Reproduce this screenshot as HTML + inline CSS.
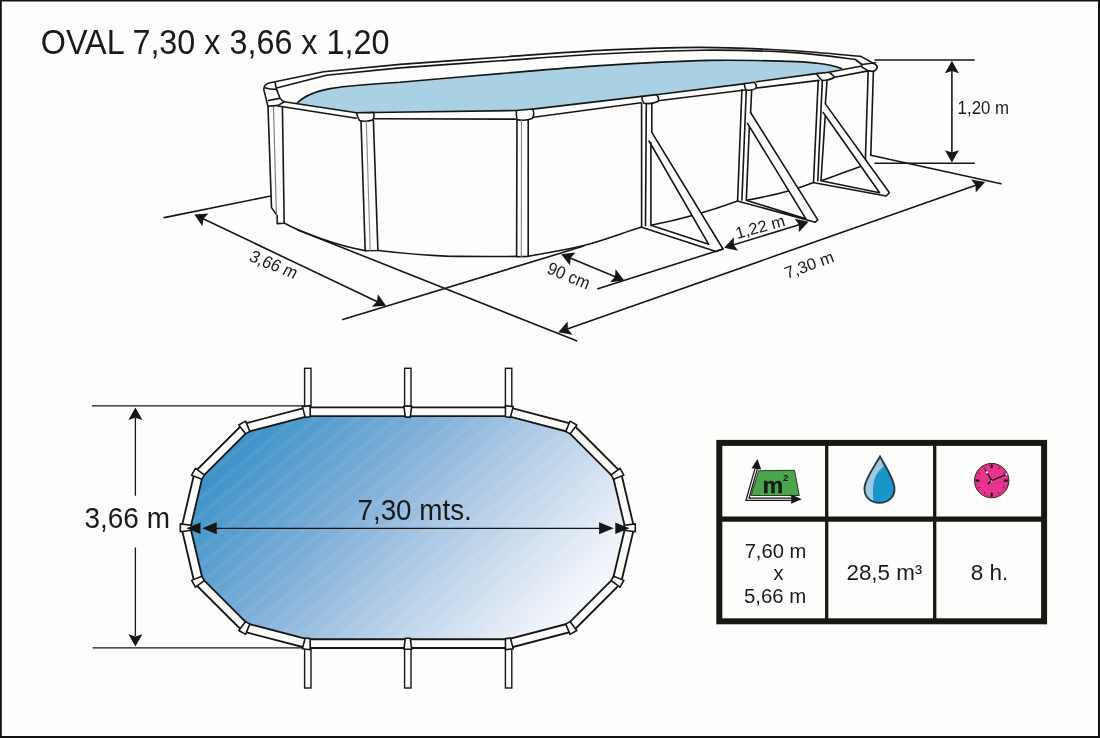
<!DOCTYPE html>
<html><head><meta charset="utf-8">
<style>
html,body{margin:0;padding:0;background:#fdfdfb;}
body{width:1100px;height:738px;overflow:hidden;}
svg{display:block;will-change:transform;}
text{font-family:"Liberation Sans",sans-serif;fill:#1a1a1a;}
</style></head>
<body>
<svg width="1100" height="738" viewBox="0 0 1100 738">
<defs>
<linearGradient id="pg" x1="265.3" y1="399.6" x2="550.7" y2="656.4" gradientUnits="userSpaceOnUse">
<stop offset="0" stop-color="#3a8fc7"/>
<stop offset="0.07" stop-color="#4596cb"/>
<stop offset="0.35" stop-color="#7eaed8"/>
<stop offset="0.57" stop-color="#adc9e5"/>
<stop offset="0.92" stop-color="#eef2f9"/>
<stop offset="1" stop-color="#f6f8fc"/>
</linearGradient>
<linearGradient id="sg" x1="0" y1="0" x2="1" y2="0">
<stop offset="0" stop-color="#fff" stop-opacity="0"/>
<stop offset="0.5" stop-color="#fff" stop-opacity="0.07"/>
<stop offset="1" stop-color="#fff" stop-opacity="0"/>
</linearGradient>
<pattern id="stripes" width="13" height="13" patternUnits="userSpaceOnUse" patternTransform="rotate(50)">
<rect x="0" y="0" width="7" height="13" fill="url(#sg)"/>
</pattern>
</defs>
<rect x="0" y="0" width="1100" height="738" fill="#fdfdfb"/>
<rect x="0.8" y="0.5" width="1098.2" height="736.5" fill="none" stroke="#111" stroke-width="2"/>

<text x="40.78" y="54.2" font-size="34.88" textLength="348.67" lengthAdjust="spacingAndGlyphs">OVAL 7,30 x 3,66 x 1,20</text>
<g id="pool3d" fill="none" stroke="#161616" stroke-width="1.6" stroke-linejoin="round" stroke-linecap="round">
<!-- water -->
<path d="M297,103.2 C303,97 312,92 330,88.6 C352,85 372,83.8 400,82.2 C416.7,80.8 466.7,76.4 500,73.6 C533.3,70.8 565.2,67.8 600,65.6 C634.8,63.4 677.3,61.1 709,60.4 C740.7,59.7 772.0,60.9 790,61.4 C808.0,61.9 812.8,62.9 817.3,63.2 C829,64.6 836,66.2 841.5,68.6 L829,72.3 L816.4,73.6 L756.4,81.8 L658,94.5 L532.7,109.1 L516.4,110.5 L373.5,112.5 L356.5,112.8 L297,104 Z" fill="#a9d0e3" stroke="none"/>
<path d="M297,103.2 C303,97 312,92 330,88.6 C352,85 372,83.8 400,82.2 C416.7,80.8 466.7,76.4 500,73.6 C533.3,70.8 565.2,67.8 600,65.6 C634.8,63.4 677.3,61.1 709,60.4 C740.7,59.7 772.0,60.9 790,61.4 C808.0,61.9 812.8,62.9 817.3,63.2 C829,64.6 836,66.2 841.5,68.6"/>
<!-- outer rim line (back) -->
<path d="M268,106.6 L263.8,89.5 C263.6,86 266,83.6 270.2,82.8 L323.6,71.8 L400,64.4 C416.7,63.2 466.7,59.5 500,57.2 C533.3,54.9 566.7,52.0 600,50.4 C633.3,48.8 668.3,47.4 700,47.4 C731.7,47.4 763.2,49.0 790,50.5 C816.8,52.0 849.1,55.4 860.9,56.4 L875.5,64.5 C878.2,66.6 877.6,69.6 873.6,71.4"/>
<!-- inner rim line -->
<path d="M277.5,87.7 L326.4,75.2 L400,67.9 C416.7,66.7 466.7,63.1 500,60.8 C533.3,58.5 566.4,55.8 600,54.0 C633.6,52.2 670.1,50.5 701.8,50.2 C733.5,49.9 764.4,50.9 790,52.4 C815.6,53.9 844.6,58.3 855.5,59.5 L861.8,64.5"/>
<!-- left cap details -->
<path d="M264.7,87.7 C268,88.6 272,89.4 276.3,89.2 M275.1,82.8 L276.3,88.9 L280,98 C281,100 282.5,101 284.2,101.7 M268.4,100.5 L279.3,98.4 M269,106 C272,105.8 276,105.8 278.1,105.4 L283.6,102.3"/>
<!-- front rail upper -->
<path d="M284.2,101.7 L356.5,112.8 M373.5,112.5 L516.4,110.5 M532.7,109.1 L641.8,96.4 M658,94.5 L745.5,83.6 M756.4,81.8 L816.4,73.6 M829,72.3 L861.8,66"/>
<!-- front rail lower -->
<path d="M278.1,106 L356.4,118.2 M373.5,118.7 L515.5,119.1 M533.6,117.3 L641,102.7 M658,100.7 L745,90 M756.4,88 L819,80.4 M834.5,77.3 L868.2,70.9"/>
<!-- right end cap -->
<path d="M861.8,64.5 L875.5,62.7 M860.9,66.4 L868.2,70.9 L873.6,71.4"/>
<!-- caps -->
<path d="M356.4,112.8 L373.4,112.4 C374.5,115 374,118 372.5,120 C368,121.6 362,121.6 359.5,120.6 C358,118 357,115 356.4,112.8 Z" fill="#fdfdfb"/>
<path d="M516.4,110.5 L532.7,109 C534,112 534,115.5 532.5,118.2 C528,120.4 521,120.4 517,119.6 C516.2,116.5 516.2,113 516.4,110.5 Z" fill="#fdfdfb"/>
<path d="M641.8,96.4 L656.5,94.6 C658.5,97 659.2,99.5 657.8,101.5 C653,103.6 647,103.8 643.8,103.2 C642.5,101 641.8,98.5 641.8,96.4 Z" fill="#fdfdfb"/>
<path d="M744.2,83.8 L754.5,82.2 C756.5,84.5 756.8,86.7 755.6,88.6 C752,90.3 748.5,90.4 746,90 C745,88 744.4,86 744.2,83.8 Z" fill="#fdfdfb"/>
<path d="M816.4,73.6 L829,72.3 C831.5,74 834,76 834.5,77.3 C831,79.5 826,80.5 822,80.5 C820,78.5 818,76 816.4,73.6 Z" fill="#fdfdfb"/>
<!-- posts -->
<path d="M268,106.6 L271.5,207.6 L277.2,215.6 L277.2,223.6 M282.4,107.2 L284.2,223 M277.2,223.6 L284.2,223.2"/><path d="M273.5,107.2 L276.6,222.2" stroke="#777" stroke-width="1.1"/>
<path d="M361,121 L365.2,250.6 M373.4,120.5 L377.9,250.4 M365.2,250.8 L377.9,250.5"/><path d="M366.3,121 L370.2,250.6" stroke="#888" stroke-width="1.1"/>
<path d="M517,120 L516.6,256.5 M528.2,120 L528.2,256.2 M516.6,256.8 L528.2,256.4"/><path d="M521.5,120 L521.3,256.6" stroke="#888" stroke-width="1.1"/>
<path d="M641.6,103.2 L641.6,227 M646.3,103.5 L645.5,226 M651.8,103.5 L651.8,132.3"/>
<path d="M741.9,89.8 L737.6,200.8 M746.3,89.8 L741.9,200.3 M751.7,89.8 L750.6,112.5"/>
<path d="M818.2,80.9 L813.5,182.4 M822.3,80.9 L817.8,181 M827,80.9 L825.4,103.9"/>
<path d="M868.2,70.9 L865.3,162 M873.4,71.2 L870.8,155.2"/>
<!-- pool bottom curve -->
<path d="M284.2,223 C292,227.5 305,233 320.6,238.5 C335,243.5 350,248 365.2,250.6"/>
<path d="M377.9,250.5 C405,253.5 430,256 456.8,256.4 C480,256.6 500,256.6 516.6,256.4"/>
<path d="M528.2,256.2 C545,253 565,250.5 583.7,245.6 C605,240 625,232 641.6,227"/>
<path d="M650.9,225.3 C678,220 705,213 737.6,201"/>
<path d="M746.3,200.3 C765,197 790,192 813.5,182.4"/>
<path d="M821,180.8 C835,176 850,170 860,166.7 C862.5,165 864,163.5 865.3,162"/>
<!-- braces -->
<path d="M651.8,132.3 L723,249 L716,251.5 L641.6,227.2 L650.9,225.3 L708.7,244.3 L649,141 Z" fill="#fdfdfb" stroke="none"/>
<path d="M750.6,112.5 L817.8,219.9 L815.2,222.2 L738.2,201.2 L746.3,200.3 L805.9,218.8 L747.5,123.4 Z" fill="#fdfdfb" stroke="none"/>
<path d="M825.4,103.9 L889.4,192.7 L886.1,196 L814.2,182.8 L821,180.8 L879.6,192.7 L823.2,112.5 Z" fill="#fdfdfb" stroke="none"/>
<path d="M651.8,132.3 L723,249 L716,251.5 L641.6,227.2 M649,141 L708.7,244.3 L650.9,225.3 L650.9,142.8"/>
<path d="M750.6,112.5 L817.8,219.9 L815.2,222.2 L738.2,201.2 M747.5,123.4 L805.9,218.8 L746.3,200.3 L749.3,127.7"/>
<path d="M825.4,103.9 L889.4,192.7 L886.1,196 L814.2,182.8 M823.2,112.5 L879.6,192.7 L821,180.8 L825.2,115.8"/>
<!-- ground lines -->
<path d="M164.2,217.6 L270.9,196"/>
<path d="M298,230 L576.6,340.8"/>
<path d="M342.7,319.6 L583.7,246.1"/>
<path d="M597.9,288.8 L723,249"/>
<path d="M870.8,155.3 L1001,183.7"/>
<path d="M875,60 L974.2,60 M875,163.3 L974.2,163.3"/>
<!-- dimension arrow lines -->
<path d="M200,217.3 L380,303"/>
<path d="M566,256.2 L619.5,278.6"/>
<path d="M729,246.2 L804,223.2"/>
<path d="M563,330.6 L980,183.7"/>
<path d="M951.9,66 L951.9,157"/>

</g>
<path d="M194.30,214.50 L202.49,226.15 L203.42,218.84 L208.50,213.51 Z M386.10,305.80 L377.91,294.15 L376.98,301.46 L371.90,306.79 Z M561.30,254.20 L570.03,265.45 L570.62,258.10 L575.44,252.54 Z M624.30,280.60 L615.57,269.35 L614.98,276.70 L610.16,282.26 Z M724.10,247.70 L738.01,250.76 L733.76,244.74 L733.90,237.37 Z M808.60,221.80 L794.69,218.74 L798.94,224.76 L798.80,232.13 Z M558.30,332.30 L572.32,334.78 L567.83,328.94 L567.67,321.58 Z M985.10,181.90 L971.08,179.42 L975.57,185.26 L975.73,192.62 Z M951.90,60.80 L944.90,73.20 L951.90,70.90 L958.90,73.20 Z M951.90,162.60 L958.90,150.20 L951.90,152.50 L944.90,150.20 Z " fill="#161616"/>
<text x="957.62" y="113.8" font-size="18.75" textLength="51.39" lengthAdjust="spacingAndGlyphs">1,20 m</text>
<text font-size="17.6" transform="translate(248.10,260.60) rotate(22) skewX(-6)" textLength="49.50" lengthAdjust="spacingAndGlyphs">3,66 m</text>
<text font-size="17.6" transform="translate(545.90,272.80) rotate(22.5)" textLength="44.50" lengthAdjust="spacingAndGlyphs">90 cm</text>
<text font-size="16.3" transform="translate(737.30,239.00) rotate(-15.4)" textLength="50.60" lengthAdjust="spacingAndGlyphs">1,22 m</text>
<text font-size="16.7" transform="translate(787.00,279.00) rotate(-20)" textLength="51.30" lengthAdjust="spacingAndGlyphs">7,30 m</text>
<g stroke="#161616" stroke-width="1.3" fill="none">
<path d="M91.8,405.8 L305,405.8 M92.7,647.8 L305,647.8"/>
<path d="M135.4,418 L135.4,495.8 M135.4,547.6 L135.4,636"/>
</g>
<path d="M135.40,407.60 L128.40,420.00 L135.40,417.70 L142.40,420.00 Z M135.40,646.60 L142.40,634.20 L135.40,636.50 L128.40,634.20 Z " fill="#161616"/>

<text x="84.54" y="528.4" font-size="28.9" textLength="85.41" lengthAdjust="spacingAndGlyphs">3,66 m</text>
<g fill="#fdfdfb" stroke="#161616" stroke-width="1.4">
<rect x="304.6" y="368.3" width="6.4" height="42"/>
<rect x="404.6" y="368.3" width="6.4" height="42"/>
<rect x="505.4" y="368.3" width="6.4" height="42"/>
<rect x="304.6" y="645" width="6.4" height="43"/>
<rect x="404.6" y="645" width="6.4" height="43"/>
<rect x="505.4" y="645" width="6.4" height="43"/>
</g>
<polygon points="307,411.8 407.8,411.8 508.6,411.8 570.6,428 617,474.5 629.6,527.8 617,581 570.6,627.5 508.6,643.6 407.8,643.6 307,643.6 245,627.5 198.5,581 186,527.8 198.5,474.5 245,428" fill="url(#pg)"/>
<polygon points="307,411.8 407.8,411.8 508.6,411.8 570.6,428 617,474.5 629.6,527.8 617,581 570.6,627.5 508.6,643.6 407.8,643.6 307,643.6 245,627.5 198.5,581 186,527.8 198.5,474.5 245,428" fill="url(#stripes)"/>
<polygon points="307,411.8 407.8,411.8 508.6,411.8 570.6,428 617,474.5 629.6,527.8 617,581 570.6,627.5 508.6,643.6 407.8,643.6 307,643.6 245,627.5 198.5,581 186,527.8 198.5,474.5 245,428" fill="none" stroke="#161616" stroke-width="10.6" stroke-linejoin="miter"/>
<polygon points="307,411.8 407.8,411.8 508.6,411.8 570.6,428 617,474.5 629.6,527.8 617,581 570.6,627.5 508.6,643.6 407.8,643.6 307,643.6 245,627.5 198.5,581 186,527.8 198.5,474.5 245,428" fill="none" stroke="#fdfdfb" stroke-width="6.9" stroke-linejoin="miter"/>

<g fill="#fdfdfb" stroke="#161616" stroke-width="1.6" stroke-linejoin="round"><path d="M302.41,406.64 L310.14,405.65 L310.16,416.74 L305.20,417.38 Z"/><path d="M403.90,406.10 L411.70,406.10 L410.30,417.10 L405.30,417.10 Z"/><path d="M505.46,405.65 L513.19,406.64 L510.40,417.38 L505.44,416.74 Z"/><path d="M570.05,421.12 L576.82,425.00 L570.13,433.84 L565.79,431.35 Z"/><path d="M620.08,468.32 L623.88,475.13 L613.59,479.26 L611.15,474.90 Z"/><path d="M635.30,523.90 L635.30,531.70 L624.30,530.30 L624.30,525.30 Z"/><path d="M623.88,580.37 L620.08,587.18 L611.15,580.60 L613.59,576.24 Z"/><path d="M576.82,630.51 L570.05,634.38 L565.80,624.14 L570.13,621.66 Z"/><path d="M513.19,648.76 L505.45,649.75 L505.45,638.66 L510.41,638.03 Z"/><path d="M411.70,649.30 L403.90,649.30 L405.30,638.30 L410.30,638.30 Z"/><path d="M310.15,649.75 L302.41,648.76 L305.19,638.03 L310.15,638.66 Z"/><path d="M245.55,634.38 L238.78,630.51 L245.46,621.66 L249.80,624.14 Z"/><path d="M195.42,587.18 L191.62,580.37 L201.91,576.24 L204.35,580.61 Z"/><path d="M180.30,531.70 L180.30,523.90 L191.30,525.30 L191.30,530.30 Z"/><path d="M191.62,475.14 L195.42,468.32 L204.35,474.89 L201.92,479.26 Z"/><path d="M238.78,424.99 L245.55,421.12 L249.80,431.35 L245.47,433.84 Z"/></g>
<path d="M205,528.3 L612,528.3" stroke="#161616" stroke-width="1.3"/>
<path d="M186.3,528.2 L200.5,522.4 L200.5,534.1 Z M202.1,528.2 L216.7,522.2 L216.7,534.2 Z" fill="#161616"/>
<path d="M629.5,528.2 L615.3,522.4 L615.3,534.1 Z M613.7,528.2 L599.1,522.2 L599.1,534.2 Z" fill="#161616"/>

<text x="357.47" y="519.8" font-size="30.23" textLength="114.36" lengthAdjust="spacingAndGlyphs">7,30 mts.</text>
<rect x="719.3" y="442.9" width="324.8" height="178.4" fill="#fdfdfb" stroke="#171713" stroke-width="6"/>
<path d="M719,519.1 L1044,519.1" stroke="#171713" stroke-width="5.2"/>
<path d="M826.7,443 L826.7,621 M934.7,443 L934.7,621" stroke="#171713" stroke-width="3.3"/>
<!-- m2 icon -->
<path d="M758.7,470.7 L794.5,470.3 L799.3,495.5 L751,495.5 Z" fill="#4ba64b" stroke="#1e2a1e" stroke-width="0.9"/>
<path d="M757,466 L747.5,499.2 L792,499.2" fill="none" stroke="#161616" stroke-width="3.6"/>
<path d="M757,466 L747.5,499.2 L792,499.2" fill="none" stroke="#fdfdfb" stroke-width="1.1"/>
<path d="M757.5,459 L761.2,469.5 L751.5,468.2 Z M801.8,499.2 L791.2,503.8 L791.2,494.6 Z" fill="#161616"/>
<text x="762.6" y="492.7" font-size="22.5" font-weight="bold" textLength="20.8" lengthAdjust="spacingAndGlyphs" stroke="#1a1a1a" stroke-width="0.35">m</text>
<text x="782.9" y="480.9" font-size="9.6" font-weight="bold" textLength="5.4" lengthAdjust="spacingAndGlyphs">2</text>
<!-- drop -->
<path d="M880,456.5 C876,464 866,477 864.6,487 C863.4,497 871,502.8 879.5,502.8 C888,502.8 895.4,497 894.4,487 C893,477 884,464 880,456.5 Z" fill="#1896c8"/>
<path d="M880,456.5 C876,464 866,477 864.6,487 C863.6,495 867,500.5 873.5,502.3 C872.8,496 872.5,488 873.8,482 C875.5,474 880,469.5 883.5,466.5 C882.3,463 881,459.5 880,456.5 Z" fill="#9fc9e1"/>
<path d="M880,456.5 C876,464 866,477 864.6,487 C863.4,497 871,502.8 879.5,502.8 C888,502.8 895.4,497 894.4,487 C893,477 884,464 880,456.5 Z" fill="none" stroke="#2a3a4c" stroke-width="1.9"/>
<!-- clock -->
<circle cx="991.7" cy="480.6" r="17.2" fill="#e8348c" stroke="#2a2a2a" stroke-width="1"/>
<circle cx="991.7" cy="480.6" r="15.6" fill="none" stroke="#7a2a50" stroke-width="0.5" stroke-dasharray="1.2 1.4"/>
<path d="M991.70,467.60 L991.70,465.30 M1004.70,480.60 L1007.00,480.60 M991.70,493.60 L991.70,495.90 M978.70,480.60 L976.40,480.60 " stroke="#111" stroke-width="2.1" stroke-linecap="round"/>
<path d="M998.35,469.08 L999.20,467.61 M1003.22,473.95 L1004.69,473.10 M1003.22,487.25 L1004.69,488.10 M998.35,492.12 L999.20,493.59 M985.05,492.12 L984.20,493.59 M980.18,487.25 L978.71,488.10 M980.18,473.95 L978.71,473.10 M985.05,469.08 L984.20,467.61 " stroke="#222" stroke-width="0.9"/>
<path d="M988.2,483.6 L991.7,480.6 L985.6,470.4 M991.7,480.6 L1007.2,474.1" stroke="#1a1a1a" stroke-width="1.5" fill="none" stroke-linecap="round"/>
<path d="M986.5,470.9 L988.1,472.1 L987.3,474 L985.8,472.6 Z" fill="#fff"/>
<path d="M1006,473.3 L1007.6,473.8 L1006.9,475.6 L1005.4,475 Z" fill="#fff"/>
<circle cx="991.7" cy="481.20000000000005" r="0.7" fill="#fff"/>

<text x="744.67" y="558.1" font-size="20.2" textLength="61.66" lengthAdjust="spacingAndGlyphs">7,60 m</text>
<text x="773.48" y="579.7" font-size="19.69" textLength="9.94" lengthAdjust="spacingAndGlyphs">x</text>
<text x="743.88" y="602.5" font-size="20.64" textLength="62.46" lengthAdjust="spacingAndGlyphs">5,66 m</text>
<text x="846.47" y="579.7" font-size="21.2" textLength="75.86" lengthAdjust="spacingAndGlyphs">28,5 m³</text>
<text x="970.72" y="579.7" font-size="21.2" textLength="37.53" lengthAdjust="spacingAndGlyphs">8 h.</text>
</svg>
</body></html>
